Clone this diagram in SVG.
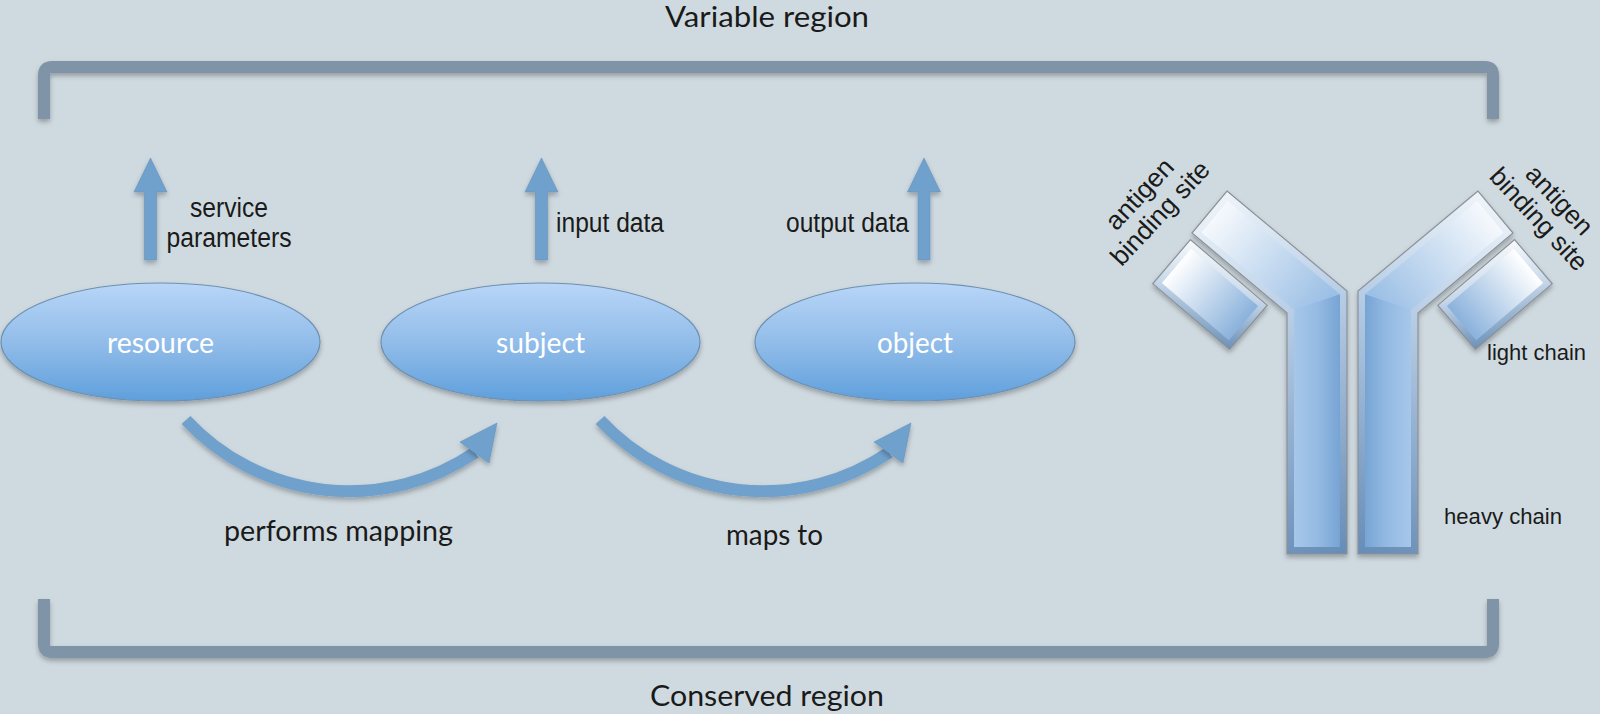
<svg xmlns="http://www.w3.org/2000/svg" xmlns:xlink="http://www.w3.org/1999/xlink" width="1600" height="714" viewBox="0 0 1600 714">
<defs>
<style>
.lbl{font-family:"Liberation Sans",Arial,Helvetica,sans-serif;font-size:27px;fill:#1a1a1a}
.cal{font-family:Lato,"Open Sans","Liberation Sans",sans-serif;fill:#1a1a1a}
.ntext{font-family:Lato,"Open Sans","Liberation Sans",sans-serif;font-size:29px;fill:#ffffff}
.node{fill:url(#ellG);stroke:#6d90b2;stroke-width:1.2;filter:url(#shadow)}
.bracket{fill:none;stroke:#7f95a7;stroke-width:12;filter:url(#shadow)}
.arrow{fill:#70a0cc;stroke:#6593c0;stroke-width:0.6;filter:url(#shadow)}
.shaft{fill:none;stroke:#70a0cc;stroke-width:12;filter:url(#shadow)}
.edge{stroke:#8c9197;stroke-width:1.2}
.ab{font-family:"Liberation Sans",Arial,Helvetica,sans-serif;font-size:26px;fill:#1a1a1a}
.ch{font-family:"Liberation Sans",Arial,Helvetica,sans-serif;font-size:22.5px;fill:#1a1a1a}
</style>
<filter id="shadow" x="-20%" y="-20%" width="140%" height="160%">
<feDropShadow dx="0" dy="3" stdDeviation="2.5" flood-color="#000" flood-opacity="0.28"/>
</filter>
<linearGradient id="ellG" x1="0" y1="0" x2="0" y2="1">
<stop offset="0" stop-color="#b8d6f8"/>
<stop offset="0.5" stop-color="#92bde9"/>
<stop offset="1" stop-color="#5f9fdc"/>
</linearGradient>
<linearGradient id="bevelH" gradientUnits="userSpaceOnUse" x1="1190" y1="190" x2="1360" y2="560">
<stop offset="0" stop-color="#f6f9fc"/>
<stop offset="0.35" stop-color="#bcd1e8"/>
<stop offset="1" stop-color="#6389b4"/>
</linearGradient>
<linearGradient id="armG" gradientUnits="userSpaceOnUse" x1="1205" y1="205" x2="1325" y2="305">
<stop offset="0" stop-color="#ffffff"/>
<stop offset="1" stop-color="#9bbfe5"/>
</linearGradient>
<linearGradient id="stemG" gradientUnits="userSpaceOnUse" x1="1294" y1="0" x2="1340" y2="0">
<stop offset="0" stop-color="#a6c7ea"/>
<stop offset="0.5" stop-color="#95bbe3"/>
<stop offset="1" stop-color="#77a4d4"/>
</linearGradient>
<linearGradient id="bevelL" x1="0" y1="0" x2="1" y2="1">
<stop offset="0" stop-color="#f8fafc"/>
<stop offset="0.45" stop-color="#c9d9ea"/>
<stop offset="1" stop-color="#6b90b8"/>
</linearGradient>
<linearGradient id="lightG" x1="0" y1="0" x2="1" y2="0">
<stop offset="0" stop-color="#ffffff"/>
<stop offset="1" stop-color="#8ab2dc"/>
</linearGradient>
</defs>

<rect x="0" y="0" width="1600" height="714" fill="#cfdae0"/>

<g id="brackets">
<path class="bracket" d="M44,119 V75 Q44,67 52,67 H1485 Q1493,67 1493,75 V119"/>
<path class="bracket" d="M44,599 V644 Q44,652 52,652 H1485 Q1493,652 1493,644 V599"/>
</g>

<g id="titles">
<text class="cal" x="767" y="27" font-size="29" text-anchor="middle" textLength="204" lengthAdjust="spacingAndGlyphs">Variable region</text>
<text class="cal" x="767" y="706" font-size="29" text-anchor="middle" textLength="234" lengthAdjust="spacingAndGlyphs">Conserved region</text>
</g>

<g id="connectors">
<polygon class="arrow" points="150.5,158 167,192 156.5,192 156.5,260 144.5,260 144.5,192 134,192"/>
<polygon class="arrow" points="541.5,158 558,192 547.5,192 547.5,260 535.5,260 535.5,192 525,192"/>
<polygon class="arrow" points="924,158 940.5,192 930,192 930,260 918,260 918,192 907.5,192"/>
<g id="curve1">
<path class="shaft" d="M186,420 A223,223 0 0 0 475,452.5"/>
<polygon class="arrow" points="497,423 460,442 489,463"/>
</g>
<g id="curve2" transform="translate(414,0)">
<path class="shaft" d="M186,420 A223,223 0 0 0 475,452.5"/>
<polygon class="arrow" points="497,423 460,442 489,463"/>
</g>
</g>

<g id="labels">
<text class="lbl" x="229" y="217" text-anchor="middle" textLength="78" lengthAdjust="spacingAndGlyphs">service</text>
<text class="lbl" x="229" y="247" text-anchor="middle" textLength="125" lengthAdjust="spacingAndGlyphs">parameters</text>
<text class="lbl" x="556" y="232" textLength="108" lengthAdjust="spacingAndGlyphs">input data</text>
<text class="lbl" x="786" y="232" textLength="123" lengthAdjust="spacingAndGlyphs">output data</text>
<text class="cal" x="338.5" y="541" font-size="29" text-anchor="middle" textLength="229" lengthAdjust="spacingAndGlyphs">performs mapping</text>
<text class="cal" x="774.5" y="545" font-size="29" text-anchor="middle" textLength="97" lengthAdjust="spacingAndGlyphs">maps to</text>
</g>

<g id="node-resource">
<ellipse class="node" cx="160.5" cy="342" rx="159.5" ry="59"/>
<text class="ntext" x="160.5" y="353" text-anchor="middle" textLength="107" lengthAdjust="spacingAndGlyphs">resource</text>
</g>
<g id="node-subject">
<ellipse class="node" cx="540.5" cy="342" rx="159.5" ry="59"/>
<text class="ntext" x="540.5" y="353" text-anchor="middle" textLength="89" lengthAdjust="spacingAndGlyphs">subject</text>
</g>
<g id="node-object">
<ellipse class="node" cx="915" cy="342" rx="160" ry="59"/>
<text class="ntext" x="915" y="353" text-anchor="middle" textLength="76" lengthAdjust="spacingAndGlyphs">object</text>
</g>

<g id="antibody">
<g id="halfL" filter="url(#shadow)">
<polygon class="edge" fill="url(#bevelH)" points="1227,191 1347,291 1347,554 1287,554 1287,313 1192,233"/>
<polygon fill="url(#armG)" points="1227.9,200.9 1340,294.3 1340,547 1294,547 1294,309.7 1201.5,232.6"/>
<polygon fill="url(#stemG)" points="1294,309.7 1340,294.3 1340,547 1294,547"/>
<g transform="translate(1210,294.5) rotate(40.5)">
<rect class="edge" x="-50.5" y="-29" width="101" height="58" fill="url(#bevelL)"/>
<rect x="-44" y="-22.5" width="88" height="45" fill="url(#lightG)"/>
</g>
</g>
<use href="#halfL" xlink:href="#halfL" transform="translate(2705,0) scale(-1,1)"/>
</g>

<g id="antibody-labels">
<g transform="translate(1146,200) rotate(-47)">
<text class="ab" x="0" y="0" text-anchor="middle" textLength="87" lengthAdjust="spacingAndGlyphs">antigen</text>
<text class="ab" x="0" y="28" text-anchor="middle" textLength="132" lengthAdjust="spacingAndGlyphs">binding site</text>
</g>
<g transform="translate(1553,206) rotate(47)">
<text class="ab" x="0" y="0" text-anchor="middle" textLength="85" lengthAdjust="spacingAndGlyphs">antigen</text>
<text class="ab" x="0" y="28" text-anchor="middle" textLength="130" lengthAdjust="spacingAndGlyphs">binding site</text>
</g>
<text class="ch" x="1487" y="360" textLength="99" lengthAdjust="spacingAndGlyphs">light chain</text>
<text class="ch" x="1444" y="524" textLength="118" lengthAdjust="spacingAndGlyphs">heavy chain</text>
</g>
</svg>
